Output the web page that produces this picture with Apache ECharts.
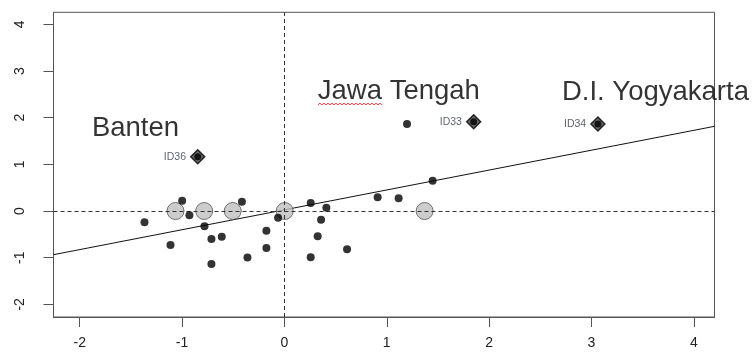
<!DOCTYPE html>
<html>
<head>
<meta charset="utf-8">
<script src="https://cdn.jsdelivr.net/npm/echarts@6/dist/echarts.min.js"></script>
<style>html,body{margin:0;padding:0;background:#fff;}#c{width:755px;height:361px;}</style>
</head>
<body>
<div id="c"></div>
<script>
const xTicks = [-2, -1, 0, 1, 2, 3, 4];
const yTicks = [-2, -1, 0, 1, 2, 3, 4];
const xRange = [-2.256, 4.202];
const yRange = [-2.271, 4.258];

const pointsX = [-1.367, -1.113, -0.999, -0.928, -0.781, -0.713, -0.713, -0.612, -0.415, -0.361, -0.176, -0.176, -0.062, 0.257, 0.257, 0.325, 0.358, 0.410, 0.612, 0.911, 1.116, 1.198, 1.448];
const pointsY = [-0.242, -0.729, 0.221, -0.092, -0.328, -0.600, -1.136, -0.551, 0.199, -0.996, -0.422, -0.793, -0.144, 0.171, -0.992, -0.542, -0.186, 0.071, -0.821, 0.294, 0.272, 1.864, 0.649];

const zeroLagX = [-1.064, -0.784, -0.505, 0.003, 1.370];
const zeroLagY = [0, 0, 0, 0, 0];

const inflNames = ['ID36', 'ID33', 'ID34'];
const inflX = [-0.847, 1.849, 3.063];
const inflY = [1.163, 1.913, 1.864];

const provNames = ['Banten', 'Jawa Tengah', 'D.I. Yogyakarta'];
const provX = [-1.455, 1.118, 3.625];
const provY = [1.778, 2.571, 2.539];

const slope = 0.426;
const intercept = 0.025;

const zip = (xs, ys) => xs.map((x, i) => [x, ys[i]]);
const lineData = xRange.map(x => [x, intercept + slope * x]);

const chart = echarts.init(document.getElementById('c'));
const font = 'Liberation Sans, Arial, sans-serif';

chart.setOption({
  animation: false,
  grid: { left: 53.5, right: 40.5, top: 12.3, bottom: 44, show: true, borderColor: '#555', borderWidth: 1, backgroundColor: 'transparent' },
  xAxis: {
    type: 'value', min: xRange[0], max: xRange[1],
    axisLine: { show: true, onZero: false, lineStyle: { color: '#555', width: 1 } },
    splitLine: { show: false },
    axisTick: { show: true, inside: false, length: 10, lineStyle: { color: '#555', width: 1 }, customValues: xTicks },
    axisLabel: { customValues: xTicks, fontFamily: font, fontSize: 14, color: '#222', margin: 19, formatter: v => String(v) }
  },
  yAxis: {
    type: 'value', min: yRange[0], max: yRange[1],
    axisLine: { show: true, onZero: false, lineStyle: { color: '#555', width: 1 } },
    splitLine: { show: false },
    axisTick: { show: true, inside: false, length: 10, lineStyle: { color: '#555', width: 1 }, customValues: yTicks },
    axisLabel: { customValues: yTicks, rotate: 90, fontFamily: font, fontSize: 14, color: '#222', margin: 26, formatter: v => String(v) }
  },
  series: [
    {
      type: 'line', data: lineData, symbol: 'none', silent: true,
      lineStyle: { color: '#111', width: 1 }, z: 3,
      markLine: {
        silent: true, symbol: 'none', label: { show: false },
        lineStyle: { type: [4, 3], color: '#333', width: 1 },
        data: [{ xAxis: 0 }, { yAxis: 0 }]
      }
    },
    {
      type: 'scatter', data: zip(zeroLagX, zeroLagY), symbol: 'circle', symbolSize: 17,
      itemStyle: { color: '#bfbfbf', borderColor: '#555', borderWidth: 1 }, z: 4
    },
    {
      type: 'scatter', data: zip(pointsX, pointsY), symbol: 'circle', symbolSize: 8,
      itemStyle: { color: '#000' }, z: 5
    },
    {
      type: 'scatter', data: inflNames.map((n, i) => ({ name: n, value: [inflX[i], inflY[i]] })),
      symbol: 'diamond', symbolSize: 14,
      itemStyle: { color: '#444', borderColor: '#000', borderWidth: 1.5 }, z: 6,
      label: { show: true, position: 'left', distance: 4, formatter: '{b}', fontFamily: font, fontSize: 10.5, color: '#353b4d' }
    },
    {
      type: 'scatter', data: zip(inflX, inflY), symbol: 'circle', symbolSize: 7,
      itemStyle: { color: '#000' }, z: 7
    },
    {
      type: 'scatter', data: provNames.map((n, i) => ({ name: n, value: [provX[i], provY[i]] })),
      symbolSize: 0, silent: true, z: 8,
      label: { show: true, position: 'inside', formatter: '{b}', fontFamily: font, fontSize: 27.5, color: '#000', align: 'center', verticalAlign: 'middle' }
    }
  ]
});

// spell-check squiggle under "Jawa"
const p0 = chart.convertToPixel({ gridIndex: 0 }, [provX[1], provY[1]]);
const sq = [];
const sx = p0[0] - 81, sy = p0[1] + 13;
for (let i = 0; i <= 32; i++) sq.push([sx + i * 2, sy + (i % 2 ? -1 : 1)]);
chart.setOption({ graphic: [{ type: 'polyline', shape: { points: sq }, style: { stroke: '#e33', lineWidth: 1, fill: null }, z: 10 }] });
</script>
</body>
</html>
